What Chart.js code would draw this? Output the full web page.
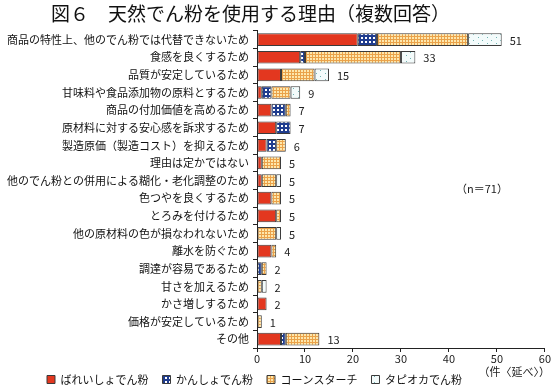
<!DOCTYPE html>
<html>
<head>
<meta charset="utf-8">
<script src="https://cdn.jsdelivr.net/npm/chart.js@4/dist/chart.umd.min.js"></script>
<style>
  body { margin: 0; background: #fff; }
  #wrap { width: 551px; height: 388px; }
</style>
</head>
<body>
<div id="wrap"><canvas id="reasonChart" width="551" height="388"></canvas></div>
<script>
const reasons = [
    '商品の特性上、他のでん粉では代替できないため',
    '食感を良くするため',
    '品質が安定しているため',
    '甘味料や食品添加物の原料とするため',
    '商品の付加価値を高めるため',
    '原材料に対する安心感を訴求するため',
    '製造原価（製造コスト）を抑えるため',
    '理由は定かではない',
    '他のでん粉との併用による糊化・老化調整のため',
    '色つやを良くするため',
    'とろみを付けるため',
    '他の原材料の色が損なわれないため',
    '離水を防ぐため',
    '調達が容易であるため',
    '甘さを加えるため',
    'かさ増しするため',
    '価格が安定しているため',
    'その他'
];
const seriesNames = ['ばれいしょでん粉', 'かんしょでん粉', 'コーンスターチ', 'タピオカでん粉'];
const potato   = [21, 9, 5, 1, 3, 4, 2, 1, 1, 3, 4, 0, 3, 0, 0, 2, 0, 5];
const sweetPot = [ 4, 1, 0, 2, 3, 3, 2, 0, 0, 0, 0, 0, 0, 1, 0, 0, 0, 1];
const cornStar = [19, 20, 7, 4, 1, 0, 2, 4, 3, 2, 1, 4, 1, 1, 1, 0, 1, 7];
const tapioca  = [ 7, 3, 3, 2, 0, 0, 0, 0, 1, 0, 0, 1, 0, 0, 1, 0, 0, 0];
const xTicks = [0, 10, 20, 30, 40, 50, 60];

const FONT = '"Noto Sans CJK JP", "Noto Sans", sans-serif';

function makePattern(w, h, paint) {
    const c = document.createElement('canvas');
    c.width = w; c.height = h;
    const g = c.getContext('2d');
    paint(g);
    return g.createPattern(c, 'repeat');
}

const ctx2 = document.getElementById('reasonChart').getContext('2d');
const fillPotato = '#e3371f';
const fillSweet = makePattern(4, 4, g => {
    g.fillStyle = '#203d8f'; g.fillRect(0, 0, 4, 4);
    g.fillStyle = '#ffffff'; g.fillRect(1, 1, 2, 2);
});
const fillCorn = makePattern(3, 3, g => {
    g.fillStyle = '#fde7ad'; g.fillRect(0, 0, 3, 3);
    g.fillStyle = '#eaa24a'; g.fillRect(0, 0, 3, 1); g.fillRect(0, 0, 1, 3);
});
const fillTapioca = makePattern(9, 6, g => {
    g.fillStyle = '#f3fbfb'; g.fillRect(0, 0, 9, 6);
    g.fillStyle = '#6fb3b3'; g.fillRect(1, 1, 1, 1); g.fillRect(5, 4, 1, 1);
});

const totalsPlugin = {
    id: 'totals',
    afterDatasetsDraw(chart) {
        const c = chart.ctx;
        const xs = chart.scales.x, ys = chart.scales.y;
        c.save();
        c.font = '11px ' + FONT;
        c.fillStyle = '#222';
        c.textBaseline = 'middle';
        reasons.forEach((r, i) => {
            const total = potato[i] + sweetPot[i] + cornStar[i] + tapioca[i];
            c.fillText(String(total), xs.getPixelForValue(total) + 8, ys.getPixelForValue(i) + 1);
        });
        // n and unit notes
        c.fillText('（n＝71）', 456, 189);
        c.textAlign = 'right';
        c.fillText('（件〈延べ〉）', 550, 372);
        c.restore();
    }
};

// nudge title and legend to where the original has them
const nudgeBoxes = {
    id: 'nudgeBoxes',
    afterLayout(chart) {
        const lg = chart.legend;
        lg.left -= 18; lg.right -= 18;
        lg.top = 360; lg.bottom = 388;
        const tb = chart.titleBlock;
        if (tb) { tb.left -= 22; tb.right -= 22; }
    }
};

new Chart(ctx2, {
    type: 'bar',
    data: {
        labels: reasons,
        datasets: [
            { label: seriesNames[0], data: potato, backgroundColor: fillPotato },
            { label: seriesNames[1], data: sweetPot, backgroundColor: fillSweet },
            { label: seriesNames[2], data: cornStar, backgroundColor: fillCorn },
            { label: seriesNames[3], data: tapioca, backgroundColor: fillTapioca }
        ].map(d => Object.assign(d, {
            borderColor: '#3a3a3a',
            borderWidth: 1,
            borderSkipped: false,
            barPercentage: 0.72,
            categoryPercentage: 1
        }))
    },
    options: {
        indexAxis: 'y',
        responsive: false,
        animation: false,
        layout: { padding: { left: 0, right: 6, top: 0, bottom: 0 } },
        plugins: {
            title: {
                display: true,
                text: '図６　天然でん粉を使用する理由（複数回答）',
                color: '#111',
                font: { family: FONT, size: 19, weight: 'normal' },
                padding: { top: 2, bottom: 6 }
            },
            legend: {
                position: 'bottom',
                maxHeight: 20,
                labels: {
                    color: '#111',
                    font: { family: FONT, size: 11 },
                    boxWidth: 8,
                    boxHeight: 8,
                    padding: 14
                }
            },
            tooltip: { enabled: false }
        },
        scales: {
            x: {
                stacked: true,
                min: 0,
                max: 60,
                afterBuildTicks: s => { s.ticks = xTicks.map(v => ({ value: v })); },
                afterFit: s => { s.height = 20; },
                border: { color: '#222', width: 1 },
                grid: { drawOnChartArea: false, tickLength: 4, color: '#222' },
                ticks: { color: '#222', font: { family: FONT, size: 11 }, padding: 0 }
            },
            y: {
                stacked: true,
                afterFit: s => { s.width = 257; },
                border: { color: '#222', width: 1 },
                grid: { drawOnChartArea: false, offset: true, tickLength: 4, color: '#222' },
                ticks: { color: '#111', font: { family: FONT, size: 11 }, padding: 4, autoSkip: false }
            }
        }
    },
    plugins: [totalsPlugin, nudgeBoxes]
});
</script>
</body>
</html>
